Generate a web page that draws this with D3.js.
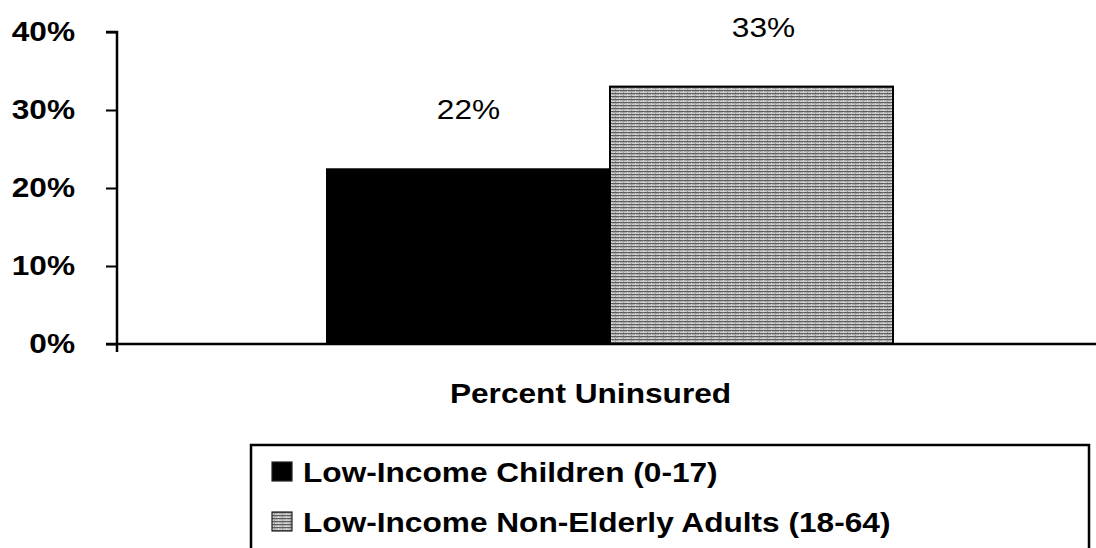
<!DOCTYPE html>
<html>
<head>
<meta charset="utf-8">
<script src="https://cdn.jsdelivr.net/npm/d3@7"></script>
<style>
  html, body { margin: 0; padding: 0; background: #fff; }
  svg { display: block; font-family: "Liberation Sans", Arial, Helvetica, sans-serif; }
</style>
</head>
<body>
<svg id="chart" width="1096" height="548"></svg>
<script>
// Share of low-income people without health insurance
const categories = ["Percent Uninsured"];
const seriesNames = ["Low-Income Children (0-17)", "Low-Income Non-Elderly Adults (18-64)"];
const seriesValues = [0.224, 0.33];
const yTicks = [0, 0.1, 0.2, 0.3, 0.4];

const FONT = 28;      // type size used throughout
const STRETCH = 1.13; // wide-set lettering

const svg = d3.select("#chart");
const plot = { left: 117, right: 1096, top: 32, bottom: 344 };

const y = d3.scaleLinear().domain([0, 0.4]).range([plot.bottom, plot.top]);
const x0 = d3.scaleBand().domain(categories).range([plot.left, plot.right]);
const x1 = d3.scaleBand().domain(seriesNames).range([327 - plot.left, 893 - plot.left]).padding(0);

// Widen text horizontally about its own x anchor
function stretch(sel) {
  sel.each(function () {
    const t = d3.select(this);
    const x = +t.attr("x") || 0;
    t.attr("x", x / STRETCH).attr("transform", `scale(${STRETCH},1)`);
  });
}

// Horizontal-stripe fill for the second series
const defs = svg.append("defs");
const pat = defs.append("pattern")
  .attr("id", "stripes").attr("patternUnits", "userSpaceOnUse")
  .attr("width", 8).attr("height", 3);
pat.append("rect").attr("width", 8).attr("height", 3).attr("fill", "#cfcfcf");
pat.append("rect").attr("y", 0).attr("width", 8).attr("height", 1).attr("fill", "#5e5e5e");
pat.append("rect").attr("y", 1).attr("width", 8).attr("height", 1).attr("fill", "#a9a9a9");
pat.append("rect").attr("x", 2).attr("y", 2).attr("width", 1).attr("height", 1).attr("fill", "#9a9a9a");
pat.append("rect").attr("x", 6).attr("y", 1).attr("width", 1).attr("height", 1).attr("fill", "#dcdcdc");

const fills = ["#000", "url(#stripes)"];

// Bars
const groups = svg.selectAll("g.cat").data(categories).join("g")
  .attr("class", "cat")
  .attr("transform", d => `translate(${x0(d)},0)`);

const barData = seriesNames.map((s, i) => ({ s, v: seriesValues[i], i }));

groups.selectAll("rect.bar")
  .data(barData)
  .join("rect")
  .attr("class", "bar")
  .attr("x", d => x1(d.s))
  .attr("width", x1.bandwidth())
  .attr("y", d => y(d.v))
  .attr("height", d => y(0) - y(d.v))
  .attr("fill", d => fills[d.i])
  .attr("stroke", "#000")
  .attr("stroke-width", 2);

// Value labels above the bars
const fmt = d3.format(".0%");
groups.selectAll("g.val")
  .data(barData)
  .join("g")
  .attr("class", "val")
  .attr("transform", d => `translate(${x1(d.s) + x1.bandwidth() / 2 + (d.i ? 12 : 0)},${y(d.v) - 50})`)
  .append("text")
  .attr("text-anchor", "middle")
  .attr("font-size", FONT)
  .attr("fill", "#000")
  .text(d => fmt(d.v))
  .call(stretch);

// Y axis
const yAxis = d3.axisLeft(y).tickValues(yTicks).tickFormat(d3.format(".0%")).tickSize(11).tickPadding(31);
const gy = svg.append("g").attr("transform", `translate(${plot.left},0)`).call(yAxis);
gy.select(".domain").attr("d", `M-11,${plot.top}H0V${plot.bottom + 8}`).attr("stroke", "#000").attr("stroke-width", 2.5);
gy.selectAll(".tick line").attr("stroke", "#000").attr("stroke-width", 2);
gy.selectAll(".tick text").attr("font-size", FONT).attr("font-weight", "bold")
  .attr("fill", "#000").attr("font-family", "Liberation Sans, Arial, sans-serif")
  .call(stretch);

// X axis baseline
svg.append("line")
  .attr("x1", plot.left - 11).attr("x2", plot.right)
  .attr("y1", y(0)).attr("y2", y(0))
  .attr("stroke", "#000").attr("stroke-width", 2.5);

// Category label
svg.selectAll("g.catlab")
  .data(categories).join("g")
  .attr("class", "catlab")
  .attr("transform", d => `translate(${x0(d) + x0.bandwidth() / 2 - 16},403)`)
  .append("text")
  .attr("text-anchor", "middle")
  .attr("font-size", FONT).attr("font-weight", "bold")
  .text(d => d)
  .call(stretch);

// Legend
svg.append("rect")
  .attr("x", 251).attr("y", 445)
  .attr("width", 838).attr("height", 120)
  .attr("fill", "none").attr("stroke", "#000").attr("stroke-width", 2.5);

const leg = svg.selectAll("g.leg").data(seriesNames).join("g")
  .attr("class", "leg")
  .attr("transform", (d, i) => `translate(272,${462 + i * 50})`);
leg.append("rect")
  .attr("x", 0).attr("y", 0).attr("width", 20).attr("height", 19)
  .attr("fill", (d, i) => fills[i])
  .attr("stroke", "#222").attr("stroke-width", 1.2);
leg.append("g")
  .attr("transform", "translate(31,20)")
  .append("text")
  .attr("font-size", FONT).attr("font-weight", "bold")
  .text(d => d)
  .call(stretch);
</script>
</body>
</html>
